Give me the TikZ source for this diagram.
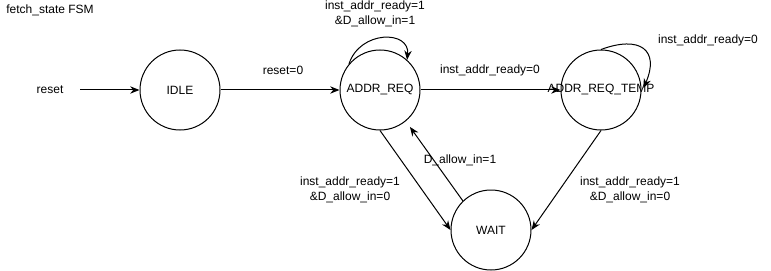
\documentclass[tikz,border=0pt]{standalone}
\usepackage{fontspec}
\setmainfont{Liberation Sans}
\usetikzlibrary{arrows.meta}

\begin{document}
\begin{tikzpicture}[x=0.75pt,y=-0.75pt,
    state/.style={draw,circle,minimum size=60pt,inner sep=0pt,line width=0.75pt},
    trans/.style={-{Stealth[length=7pt,width=5.5pt]},line width=0.75pt},
    lbl/.style={align=center,inner sep=0pt},
    font=\fontsize{9pt}{11.25pt}\selectfont]
    \useasboundingbox (0,0) rectangle (771,271);

    % Text Node
    \node (title) at (50,10) [lbl] {fetch\_state FSM};

    %Shape: Circle
    \node (idle) at (180,90) [state] {IDLE};
    %Shape: Circle
    \node (addr) at (380,90) [state] {ADDR\_REQ};
    %Shape: Circle (text runs past the border)
    \node (temp) at (601,90) [state] {\makebox[0pt]{ADDR\_REQ\_TEMP}};
    %Shape: Circle
    \node (wait) at (491,230) [state] {WAIT};

    % reset input
    \node (rst) at (50,90) [lbl] {reset};
    \coordinate (rstin) at (80,90);
    \draw [trans] (rstin) -- (idle.west);

    %Straight Lines
    \draw [trans] (idle) -- (addr);
    %Straight Lines
    \draw [trans] (addr) -- (temp);
    %Straight Lines
    \draw [trans] (addr.south) -- (wait.west);
    %Straight Lines
    \draw [trans] (wait.134) -- ([shift={(5,5)}]addr.-52);
    %Straight Lines
    \draw [trans] (temp.south) -- (wait.east);

    %Curve Lines (self loops)
    \draw [trans] (addr.140) .. controls (360,30) and (410,30) .. (addr.48);
    \draw [trans] (temp.90) .. controls (640,35) and (660,50) .. ([shift={(2,-2)}]temp.east);

    % Text Node
    \node (l1) at (283,70) [lbl] {reset=0};
    % Text Node
    \node (l2) at (375,14) [lbl] {inst\_addr\_ready=1\\\&D\_allow\_in=1};
    % Text Node
    \node (l3) at (490,70) [lbl] {inst\_addr\_ready=0};
    % Text Node
    \node (l4) at (708,40) [lbl] {inst\_addr\_ready=0};
    % Text Node
    \node (l5) at (350,190) [lbl] {inst\_addr\_ready=1\\\&D\_allow\_in=0};
    % Text Node
    \node (l6) at (460,160) [lbl] {D\_allow\_in=1};
    % Text Node
    \node (l7) at (630,190) [lbl] {inst\_addr\_ready=1\\\&D\_allow\_in=0};

\end{tikzpicture}
\end{document}
